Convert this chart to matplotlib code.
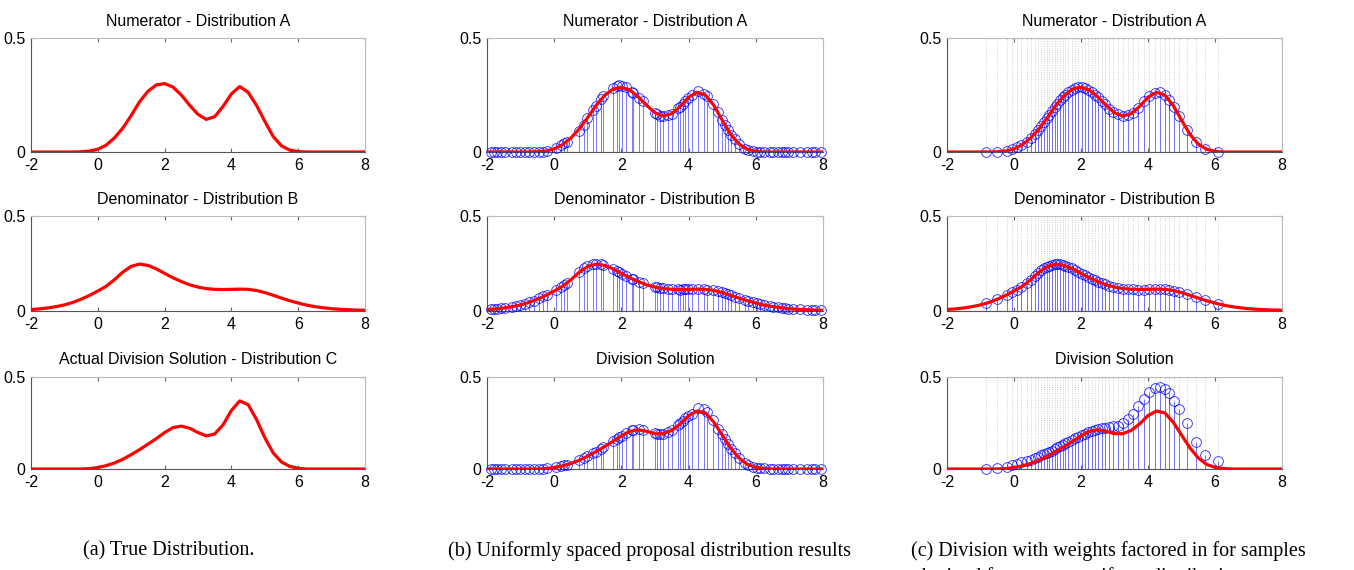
"""Division of distributions: true curves, uniform proposal samples, weighted samples."""

import matplotlib
matplotlib.use("Agg")
import matplotlib.pyplot as plt

plt.rcParams["axes.unicode_minus"] = False

SANS = ["Liberation Sans", "DejaVu Sans"]
SERIF = ["Liberation Serif", "DejaVu Serif"]

# x grid of the smooth curves
GRID = [-2.0, -1.75, -1.5, -1.25, -1.0, -0.75, -0.5, -0.25, 0.0, 0.25, 0.5, 0.75,
        1.0, 1.25, 1.5, 1.75, 2.0, 2.25, 2.5, 2.75, 3.0, 3.25, 3.5, 3.75, 4.0, 4.25,
        4.5, 4.75, 5.0, 5.25, 5.5, 5.75, 6.0, 6.25, 6.5, 6.75, 7.0, 7.25, 7.5, 7.75, 8.0]

A_TRUE = [0, 0, 0, 0, 0, 0, 0.001, 0.004, 0.012, 0.030, 0.062, 0.105, 0.160, 0.220,
          0.266, 0.294, 0.300, 0.285, 0.250, 0.205, 0.165, 0.143, 0.155, 0.200, 0.255,
          0.287, 0.262, 0.205, 0.135, 0.068, 0.027, 0.008, 0.002, 0, 0, 0, 0, 0, 0, 0, 0]
A_EST = [0, 0, 0, 0, 0, 0, 0.001, 0.004, 0.014, 0.032, 0.062, 0.102, 0.152, 0.205,
         0.248, 0.276, 0.284, 0.272, 0.242, 0.205, 0.172, 0.158, 0.168, 0.200, 0.240,
         0.262, 0.250, 0.205, 0.140, 0.078, 0.035, 0.012, 0.003, 0, 0, 0, 0, 0, 0, 0, 0]
B_TRUE = [0.008, 0.011, 0.016, 0.023, 0.032, 0.045, 0.062, 0.082, 0.105, 0.130, 0.165,
          0.205, 0.235, 0.247, 0.240, 0.222, 0.198, 0.175, 0.155, 0.138, 0.126, 0.118,
          0.114, 0.113, 0.114, 0.115, 0.114, 0.108, 0.097, 0.083, 0.068, 0.054, 0.042,
          0.031, 0.023, 0.017, 0.012, 0.009, 0.007, 0.005, 0.004]
C_TRUE = [0, 0, 0, 0, 0, 0, 0, 0.002, 0.008, 0.018, 0.033, 0.053, 0.078, 0.105, 0.135,
          0.165, 0.198, 0.225, 0.233, 0.222, 0.198, 0.180, 0.190, 0.240, 0.318, 0.370,
          0.350, 0.270, 0.170, 0.088, 0.038, 0.014, 0.004, 0, 0, 0, 0, 0, 0, 0, 0]
C_EST = [0, 0, 0, 0, 0, 0, 0, 0.002, 0.008, 0.017, 0.030, 0.048, 0.070, 0.095, 0.122,
         0.150, 0.180, 0.205, 0.213, 0.205, 0.192, 0.192, 0.210, 0.245, 0.290, 0.315,
         0.305, 0.255, 0.185, 0.115, 0.060, 0.025, 0.009, 0.003, 0, 0, 0, 0, 0, 0, 0]

# uniformly spaced proposal samples (column b)
XB = [-1.87, -1.79, -1.69, -1.59, -1.47, -1.25, -1.15, -1.02, -0.88, -0.75, -0.60,
      -0.45, -0.32, -0.21, 0.04, 0.19, 0.29, 0.37, 0.74, 0.89, 0.99, 1.16, 1.23, 1.38,
      1.46, 1.74, 1.86, 1.94, 2.01, 2.14, 2.31, 2.35, 2.53, 2.63, 3.00, 3.07, 3.15,
      3.23, 3.40, 3.50, 3.69, 3.74, 3.82, 3.90, 3.99, 4.09, 4.29, 4.46, 4.54, 4.72,
      4.88, 4.99, 5.08, 5.18, 5.26, 5.38, 5.50, 5.68, 5.78, 5.93, 6.03, 6.13, 6.25,
      6.42, 6.52, 6.67, 6.77, 6.87, 6.97, 7.12, 7.32, 7.51, 7.66, 7.76, 7.94]
NUM_B = [0, 0, 0, 0, 0, 0, 0, 0, 0, 0, 0, 0.001, 0.002, 0.006, 0.018, 0.030, 0.040,
         0.045, 0.092, 0.118, 0.148, 0.185, 0.200, 0.232, 0.245, 0.282, 0.290, 0.292,
         0.290, 0.284, 0.262, 0.258, 0.238, 0.225, 0.172, 0.165, 0.160, 0.158, 0.162,
         0.168, 0.192, 0.198, 0.212, 0.225, 0.238, 0.250, 0.268, 0.255, 0.245, 0.210,
         0.175, 0.140, 0.120, 0.095, 0.075, 0.055, 0.035, 0.015, 0.010, 0.004, 0.002,
         0.001, 0, 0, 0, 0, 0, 0, 0, 0, 0, 0, 0, 0, 0]
DEN_B = [0.010, 0.011, 0.013, 0.015, 0.017, 0.023, 0.027, 0.032, 0.038, 0.046, 0.055,
         0.066, 0.077, 0.086, 0.110, 0.125, 0.135, 0.148, 0.205, 0.225, 0.235, 0.245,
         0.248, 0.246, 0.242, 0.222, 0.212, 0.203, 0.197, 0.185, 0.170, 0.166, 0.153,
         0.146, 0.126, 0.124, 0.121, 0.119, 0.116, 0.115, 0.114, 0.113, 0.114, 0.114,
         0.115, 0.115, 0.116, 0.114, 0.113, 0.109, 0.103, 0.098, 0.093, 0.087, 0.082,
         0.075, 0.068, 0.058, 0.053, 0.045, 0.041, 0.036, 0.031, 0.025, 0.022, 0.019,
         0.017, 0.015, 0.013, 0.010, 0.009, 0.007, 0.006, 0.005, 0.004]
DIV_B = [0, 0, 0, 0, 0, 0, 0, 0, 0, 0, 0, 0, 0.001, 0.003, 0.010, 0.016, 0.020, 0.024,
         0.048, 0.060, 0.068, 0.085, 0.090, 0.108, 0.118, 0.150, 0.165, 0.175, 0.182,
         0.195, 0.210, 0.212, 0.215, 0.212, 0.195, 0.190, 0.190, 0.192, 0.200, 0.210,
         0.240, 0.248, 0.262, 0.275, 0.290, 0.300, 0.330, 0.325, 0.310, 0.265, 0.220,
         0.190, 0.165, 0.135, 0.110, 0.085, 0.060, 0.032, 0.022, 0.012, 0.008, 0.005,
         0.003, 0, 0, 0, 0, 0, 0, 0, 0, 0, 0, 0, 0]

# samples drawn from the non-uniform proposal (column c)
XC = [-0.84, -0.50, -0.22, -0.05, 0.08, 0.22, 0.38, 0.50, 0.62, 0.73, 0.82, 0.90,
      0.98, 1.05, 1.13, 1.21, 1.29, 1.37, 1.45, 1.52, 1.62, 1.72, 1.82, 1.92, 2.02,
      2.12, 2.22, 2.32, 2.42, 2.52, 2.62, 2.72, 2.85, 2.96, 3.11, 3.26, 3.41, 3.54,
      3.71, 3.88, 4.04, 4.21, 4.36, 4.51, 4.64, 4.79, 4.93, 5.16, 5.42, 5.70, 6.08]
NUM_C = [0, 0.001, 0.005, 0.011, 0.020, 0.030, 0.046, 0.062, 0.080, 0.098, 0.115,
         0.130, 0.148, 0.162, 0.178, 0.196, 0.212, 0.226, 0.240, 0.250, 0.262, 0.272,
         0.279, 0.283, 0.284, 0.280, 0.274, 0.265, 0.252, 0.240, 0.224, 0.210, 0.190,
         0.177, 0.165, 0.158, 0.162, 0.172, 0.195, 0.222, 0.245, 0.260, 0.262, 0.248,
         0.228, 0.196, 0.158, 0.098, 0.045, 0.015, 0.002]
DEN_C = [0.040, 0.062, 0.085, 0.100, 0.113, 0.127, 0.145, 0.165, 0.183, 0.200, 0.214,
         0.225, 0.233, 0.238, 0.243, 0.246, 0.247, 0.245, 0.242, 0.239, 0.232, 0.224,
         0.215, 0.205, 0.196, 0.187, 0.178, 0.169, 0.161, 0.154, 0.146, 0.140, 0.133,
         0.128, 0.122, 0.118, 0.115, 0.114, 0.113, 0.113, 0.114, 0.115, 0.115, 0.114,
         0.111, 0.107, 0.100, 0.088, 0.073, 0.057, 0.039]
DIV_C = [0, 0.005, 0.012, 0.020, 0.028, 0.037, 0.046, 0.051, 0.058, 0.067, 0.074,
         0.080, 0.088, 0.094, 0.100, 0.108, 0.117, 0.125, 0.133, 0.140, 0.149, 0.158,
         0.166, 0.175, 0.183, 0.191, 0.200, 0.207, 0.213, 0.218, 0.222, 0.225, 0.229,
         0.232, 0.236, 0.248, 0.270, 0.298, 0.340, 0.380, 0.418, 0.442, 0.447, 0.435,
         0.412, 0.372, 0.324, 0.251, 0.147, 0.074, 0.043]

TITLES = ["Numerator - Distribution A", "Denominator - Distribution B"]
TITLE_C_TRUE = "Actual Division Solution - Distribution C"
TITLE_C_EST = "Division Solution"
XTICKS = [-2, 0, 2, 4, 6, 8]
YTICKS = [0, 0.5]
CAPTIONS = ["(a) True Distribution.",
            "(b) Uniformly spaced proposal distribution results",
            "(c) Division with weights factored in for samples"]
CAPTION_C2 = "obtained from a non-uniform distribution."

W, H = 1354, 570
COL_LEFT = [31, 487, 947]
COL_WIDTH = [334, 336, 335]
ROW_SPAN = [(38, 152), (216, 311), (377, 469)]


def make_axes(fig, col, row):
    top, bottom = ROW_SPAN[row]
    ax = fig.add_axes([COL_LEFT[col] / W, 1 - bottom / H,
                       COL_WIDTH[col] / W, (bottom - top) / H])
    ax.set_xlim(-2, 8)
    ax.set_ylim(0, 0.5)
    ax.set_xticks(XTICKS)
    ax.set_xticklabels([str(t) for t in XTICKS])
    ax.set_yticks(YTICKS)
    ax.set_yticklabels(["0", "0.5"])
    ax.tick_params(direction="in", length=3, top=True, right=True,
                   labelsize=11.5, color="#666666")
    ax.tick_params(axis="x", pad=4)
    ax.tick_params(axis="y", pad=4)
    for lab in ax.get_xticklabels() + ax.get_yticklabels():
        lab.set_family(SANS)
    for side, sp in ax.spines.items():
        sp.set_linewidth(0.8)
        sp.set_color("#555555" if side in ("left", "bottom") else "#bbbbbb")
    return ax


def draw_samples(ax, xs, ys, grid_lines=False):
    if grid_lines:
        ax.vlines(xs, 0, 0.5, colors="#c4c4c4", linestyles=":", linewidth=0.6, zorder=1)
    ax.axhline(0, color="#888888", linewidth=0.8, zorder=1)
    ax.vlines(xs, 0, ys, colors="blue", linewidth=0.6, alpha=0.6, zorder=2)
    ax.plot(xs, ys, "o", mfc="none", mec="blue", ms=7, mew=0.6, alpha=0.85,
            zorder=3, clip_on=False)


def main():
    fig = plt.figure(figsize=(W / 100, H / 100), dpi=100)

    columns = [
        (None, [A_TRUE, B_TRUE, C_TRUE], [None, None, None]),
        (XB, [A_EST, B_TRUE, C_EST], [NUM_B, DEN_B, DIV_B]),
        (XC, [A_EST, B_TRUE, C_EST], [NUM_C, DEN_C, DIV_C]),
    ]
    for col, (xs, curves, samples) in enumerate(columns):
        for row in range(3):
            ax = make_axes(fig, col, row)
            if xs is not None:
                draw_samples(ax, xs, samples[row], grid_lines=(col == 2))
            ax.plot(GRID, curves[row], color="red", linewidth=2.3, zorder=4,
                    solid_joinstyle="round")
            if row < 2:
                title = TITLES[row]
            else:
                title = TITLE_C_TRUE if col == 0 else TITLE_C_EST
            ax.set_title(title, fontsize=11.5, family=SANS, pad=9)

    cap_x = [169, 650, 1108]
    for x, txt in zip(cap_x, CAPTIONS):
        fig.text(x / W, 1 - 551 / H, txt, ha="center", va="center",
                 fontsize=14.5, family=SERIF)
    fig.text(912 / W, 1 - 568 / H, CAPTION_C2, ha="left", va="top",
             fontsize=14.5, family=SERIF)

    fig.savefig("out.png", dpi=100, facecolor="white")


if __name__ == "__main__":
    main()
